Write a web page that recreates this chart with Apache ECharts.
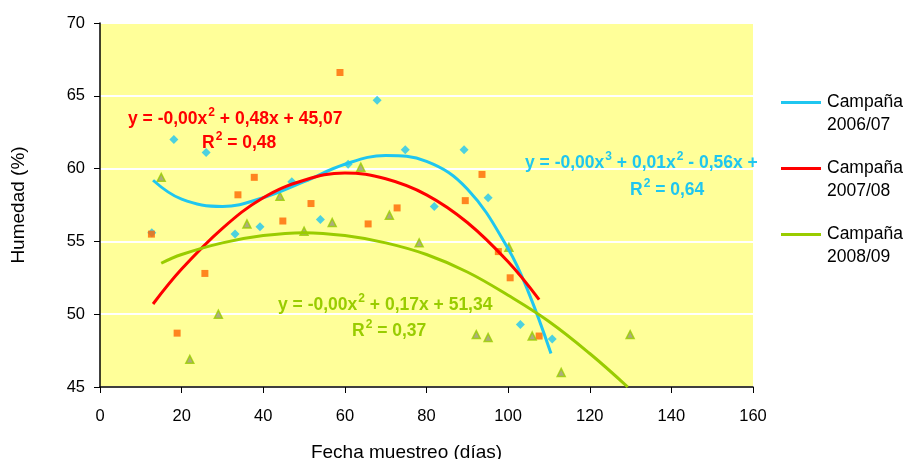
<!DOCTYPE html>
<html><head><meta charset="utf-8">
<script src="https://cdn.jsdelivr.net/npm/echarts@6/dist/echarts.min.js"></script>
<style>html,body{margin:0;padding:0;background:#fff}#c{width:909px;height:459px}</style>
</head><body><div id="c"></div>
<script>
const seriesNames = ['Campaña 2006/07', 'Campaña 2007/08', 'Campaña 2008/09'];
const xTicks = [0, 20, 40, 60, 80, 100, 120, 140, 160];
const yTicks = [45, 50, 55, 60, 65, 70];

// observed points [dia, humedad]
const pts0607 = [[12.7,55.6],[18.1,62.0],[26.0,61.1],[33.1,55.5],[39.2,56.0],[47.0,59.1],[54.0,56.5],[60.8,60.3],[67.9,64.7],[74.8,61.3],[81.9,57.4],[89.2,61.3],[95.1,58.0],[103.0,49.3],[110.8,48.3]];
const pts0708 = [[12.6,55.5],[18.9,48.7],[25.7,52.8],[33.8,58.2],[37.8,59.4],[44.8,56.4],[51.7,57.6],[58.8,66.6],[65.7,56.2],[72.8,57.3],[89.5,57.8],[93.6,59.6],[97.6,54.3],[100.5,52.5],[107.6,48.5]];
const pts0809 = [[15.0,59.4],[22.0,46.9],[29.0,50.0],[36.0,56.2],[44.1,58.1],[50.0,55.7],[56.9,56.3],[63.9,60.1],[70.9,56.8],[78.2,54.9],[92.2,48.6],[95.1,48.4],[100.2,54.6],[105.9,48.5],[113.0,46.0],[129.9,48.6]];

// trend lines
const trend0607 = [[13,59.2],[20,57.9],[30,57.4],[40,58.0],[50,59.1],[60,60.3],[70,60.9],[80,60.5],[90,58.6],[100,54.5],[105,51.5],[110.5,47.3]];
const trend0708 = [[13,50.7],[20,53.1],[30,55.9],[40,58.0],[50,59.2],[60,59.7],[70,59.3],[80,58.2],[90,56.3],[100,53.6],[107.6,51.0]];
const trend0809 = [[15,53.5],[20,54.1],[30,54.9],[40,55.4],[50,55.6],[60,55.4],[70,54.9],[80,54.1],[90,52.9],[100,51.3],[110,49.5],[120,47.3],[129.3,45.0]];

const eqRed = ['y = -0,00x', '2', ' + 0,48x + 45,07', 'R', '2', ' = 0,48'];
const eqBlue = ['y = -0,00x', '3', ' + 0,01x', '2', ' - 0,56x +', 'R', '2', ' = 0,64'];
const eqGreen = ['y = -0,00x', '2', ' + 0,17x + 51,34', 'R', '2', ' = 0,37'];

const cBlue = '#1FC6F0', cRed = '#FF0000', cGreen = '#99CC00', cOrange = '#FF6600';
const font = 'Liberation Sans, Arial';

function rich(color) {
  return {
    n: {fontFamily: font, fontWeight: 'bold', fontSize: 17.5, fill: color, color: color, lineHeight: 25},
    s: {fontFamily: font, fontWeight: 'bold', fontSize: 12, fill: color, color: color, lineHeight: 12, verticalAlign: 'top', padding: [0, 0, 0, 1]}
  };
}
function eqText(x, y, parts, supIdx, color) {
  const txt = parts.map((p, i) => (supIdx.includes(i) ? '{s|' : '{n|') + p + '}').join('');
  return {type: 'text', x: x, y: y, z: 100, style: {text: txt, rich: rich(color), verticalAlign: 'middle'}};
}

const chart = echarts.init(document.getElementById('c'), null, {renderer: 'canvas'});
chart.setOption({
  animation: false,
  grid: {left: 100, top: 23, right: 156, bottom: 72, show: true, backgroundColor: '#FFFF99', borderWidth: 0, outerBoundsMode: 'none', containLabel: false},
  xAxis: {
    type: 'value', min: 0, max: 160, interval: 20,
    name: 'Fecha muestreo (días)', nameLocation: 'middle', nameGap: 56,
    nameTextStyle: {fontFamily: font, fontSize: 19, color: '#000', padding: [0, 40, 0, 0]},
    axisLine: {show: true, onZero: false, lineStyle: {color: '#000', width: 1.5}},
    axisTick: {show: true, length: 6, lineStyle: {color: '#000'}},
    axisLabel: {fontFamily: font, fontSize: 16.5, color: '#000', margin: 21},
    splitLine: {show: false}
  },
  yAxis: {
    type: 'value', min: 45, max: 70, interval: 5,
    name: 'Humedad (%)', nameLocation: 'middle', nameGap: 72,
    nameTextStyle: {fontFamily: font, fontSize: 19, color: '#000'},
    axisLine: {show: true, lineStyle: {color: '#000', width: 1.5}},
    axisTick: {show: true, length: 6, lineStyle: {color: '#000'}},
    axisLabel: {fontFamily: font, fontSize: 16.5, color: '#000', margin: 15},
    splitLine: {show: true, lineStyle: {color: '#FFFFFF', width: 2}}
  },
  legend: {
    orient: 'vertical', left: 781, top: 68, itemGap: -3, padding: 0,
    itemWidth: 40, itemHeight: 3,
    data: seriesNames.map(n => ({name: n, icon: 'rect'})),
    formatter: n => '{e| }\n{a|' + n.split(' ')[0] + '}\n{a|' + n.split(' ')[1] + '}',
    textStyle: {
      fontFamily: font, fontSize: 17.5, color: '#000', lineHeight: 23,
      rich: {
        e: {fontSize: 17.5, lineHeight: 23, fontFamily: font},
        a: {fontSize: 17.5, lineHeight: 23, fontFamily: font, color: '#000', padding: [0, 0, 0, 1]}
      }
    }
  },
  graphic: [
    eqText(128, 119, eqRed.slice(0, 3), [1], cRed),
    eqText(202, 143, eqRed.slice(3), [1], cRed),
    eqText(525, 163, eqBlue.slice(0, 5), [1, 3], cBlue),
    eqText(630, 190, eqBlue.slice(5), [1], cBlue),
    eqText(278, 305, eqGreen.slice(0, 3), [1], cGreen),
    eqText(352, 331, eqGreen.slice(3), [1], cGreen)
  ],
  series: [
    {name: 'pts 2006/07', type: 'scatter', data: pts0607, symbol: 'diamond', symbolSize: 9, itemStyle: {color: cBlue}, z: 3},
    {name: 'pts 2007/08', type: 'scatter', data: pts0708, symbol: 'rect', symbolSize: 7, itemStyle: {color: cOrange}, z: 3},
    {name: 'pts 2008/09', type: 'scatter', data: pts0809, symbol: 'triangle', symbolSize: 8, itemStyle: {color: '#999977', borderColor: cGreen, borderWidth: 1.5}, z: 3},
    {name: seriesNames[0], type: 'line', data: trend0607, smooth: 0.4, showSymbol: false, lineStyle: {color: cBlue, width: 3}, itemStyle: {color: cBlue}, z: 4},
    {name: seriesNames[1], type: 'line', data: trend0708, smooth: 0.4, showSymbol: false, lineStyle: {color: cRed, width: 3}, itemStyle: {color: cRed}, z: 4},
    {name: seriesNames[2], type: 'line', data: trend0809, smooth: 0.4, showSymbol: false, lineStyle: {color: cGreen, width: 3}, itemStyle: {color: cGreen}, z: 4}
  ]
});
</script></body></html>
